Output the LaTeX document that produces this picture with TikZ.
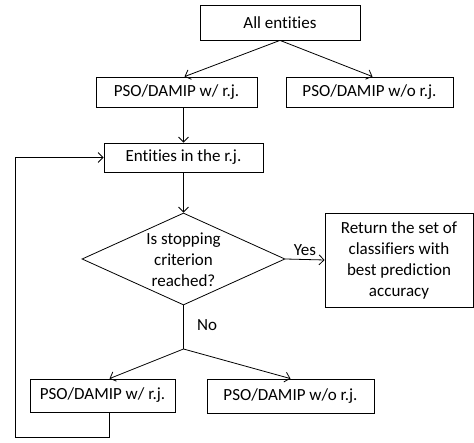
\documentclass[tikz,border=0pt]{standalone}
\usepackage{fontspec}
\setmainfont{Carlito}[Ligatures=NoCommon]
\usetikzlibrary{arrows.meta,shapes.geometric,calc}
\begin{document}
\begin{tikzpicture}[x=1pt,y=-1pt,
  every node/.style={font=\fontsize{17}{21}\selectfont},
  box/.style={draw,line width=0.8pt,inner sep=0pt,align=center},
  arr/.style={line width=0.8pt,-{Straight Barb[length=5pt,width=10pt,line width=0.8pt]}},
  ln/.style={line width=0.8pt}]
\useasboundingbox (0,0) rectangle (474,443);
\node[box,minimum width=160pt,minimum height=35pt] (all) at (280,22.5) {All entities};
\node[box,minimum width=161pt,minimum height=30pt] (pso1) at (176.5,92) {PSO/DAMIP w/ r.j.};
\node[box,minimum width=167pt,minimum height=30pt] (pso2) at (369.5,92) {PSO/DAMIP w/o r.j.};
\node[box,minimum width=159pt,minimum height=29pt] (ent) at (183.5,157.5) {Entities in the r.j.};
\node[draw,diamond,line width=0.8pt,inner sep=0pt,minimum width=203pt,minimum height=92pt] (dec) at (183.5,259) {};
\node[align=center,inner sep=0pt] (dect) at (183.5,260) {Is stopping\\criterion\\reached?};
\node[box,minimum width=148pt,minimum height=94pt] (ret) at (399,260) {Return the set of\\classifiers with\\best prediction\\accuracy};
\node[box,minimum width=145pt,minimum height=33pt] (bpso1) at (102.5,395.5) {PSO/DAMIP w/ r.j.};
\node[box,minimum width=167pt,minimum height=34pt] (bpso2) at (290.5,396) {PSO/DAMIP w/o r.j.};
\coordinate (br) at (183.5,349);
\coordinate (loopc) at (15,437);
\draw[arr] (all.south) -- ([xshift=8pt]pso1.north);
\draw[arr] (all.south) -- ([xshift=3pt]pso2.north);
\draw[arr] (pso1.south -| ent.north) -- (ent.north);
\draw[arr] (ent.south) -- (dec.north);
\draw[arr] (dec.east) -- node[above,inner sep=3pt] (yes) {Yes} (ret.west);
\draw[ln] (dec.south) -- node[right,pos=0.45,xshift=10pt] (no) {No} (br);
\draw[arr] (br) -- ([xshift=7pt]bpso1.north);
\draw[arr] (br) -- (bpso2.north);
\draw[arr] ([xshift=6.5pt]bpso1.south) |- (loopc) |- (ent.west);
\end{tikzpicture}
\end{document}
